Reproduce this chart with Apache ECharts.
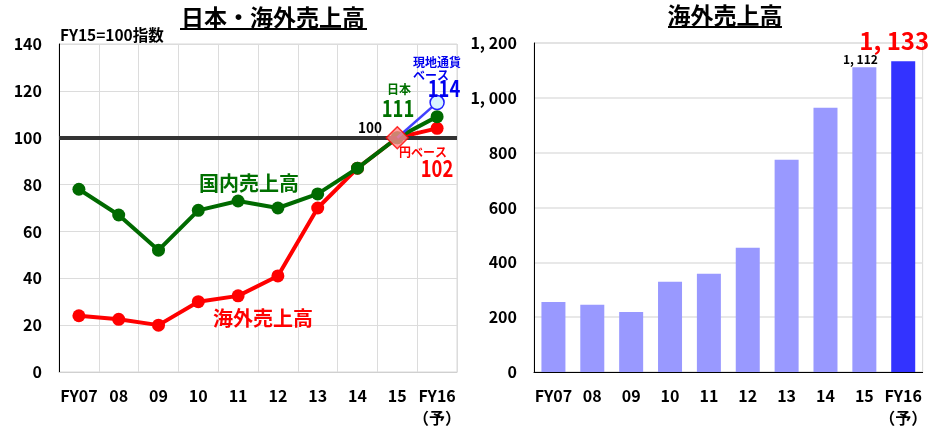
<!DOCTYPE html>
<html>
<head>
<meta charset="utf-8">
<script src="https://cdn.jsdelivr.net/npm/echarts@6/dist/echarts.min.js"></script>
<style>
  body { margin: 0; background: #fff; }
  #main { width: 930px; height: 430px; }
</style>
</head>
<body>
<div id="main"></div>
<script>
// categories
const years = ['FY07', '08', '09', '10', '11', '12', '13', '14', '15', 'FY16\n（予）'];
// left: index FY15 = 100
const domestic = [78, 67, 52, 69, 73, 70, 76, 87, 100, 109];
const overseasYen = [24, 22.5, 20, 30, 32.5, 41, 70, 87, 100, 104];
const overseasLocal = [null, null, null, null, null, null, null, null, 100, 115];
// right: overseas sales
const overseasSales = [255, 245, 219, 329, 358, 453, 774, 964, 1112, 1133];

const FONT = '"Noto Sans CJK JP", "Noto Sans", sans-serif';
const GREEN = '#006a00';
const RED = '#ff0000';
const BLUE = '#3333ff';

const fmt = v => v >= 1000 ? Math.floor(v / 1000) + ', ' + String(v % 1000).padStart(3, '0') : String(v);

const axisLabel = { color: '#000', fontFamily: FONT, fontWeight: 'bold', fontSize: 16 };

function txt(x, y, text, size, color, sx) {
  return {
    type: 'text', x: x, y: y, scaleX: sx || 1, z: 100,
    style: { text: text, fill: color, fontFamily: FONT, fontWeight: 'bold', fontSize: size, align: 'center', verticalAlign: 'middle' }
  };
}

const chart = echarts.init(document.getElementById('main'));
chart.setOption({
  backgroundColor: '#fff',
  animation: false,
  grid: [
    { left: 59, top: 44, width: 398, height: 328, show: true, borderColor: '#d9d9d9', borderWidth: 1 },
    { left: 534, top: 43, width: 393, height: 329, show: true, borderColor: '#d9d9d9', borderWidth: 1 }
  ],
  xAxis: [
    {
      type: 'category', gridIndex: 0, data: years,
      axisLine: { lineStyle: { color: '#d0d0d0' } }, axisTick: { show: false },
      axisLabel: Object.assign({ margin: 13, lineHeight: 22, interval: 0 }, axisLabel),
      splitLine: { show: true, interval: 0, lineStyle: { color: '#dcdcdc' } }
    },
    {
      type: 'category', gridIndex: 1, data: years,
      axisLine: { lineStyle: { color: '#000', width: 1 } }, axisTick: { show: false },
      axisLabel: Object.assign({ margin: 13, lineHeight: 22, interval: 0 }, axisLabel),
      splitLine: { show: false }
    }
  ],
  yAxis: [
    {
      type: 'value', gridIndex: 0, min: 0, max: 140, interval: 20,
      axisLine: { show: true, lineStyle: { color: '#000' } }, axisTick: { show: false },
      axisLabel: Object.assign({ margin: 17 }, axisLabel),
      splitLine: { lineStyle: { color: '#dcdcdc' } }
    },
    {
      type: 'value', gridIndex: 1, min: 0, max: 1200, interval: 200,
      axisLine: { show: true, lineStyle: { color: '#000' } }, axisTick: { show: false },
      axisLabel: Object.assign({ margin: 17, formatter: fmt }, axisLabel),
      splitLine: { lineStyle: { color: '#e0e0e0', width: 1.5 } }
    }
  ],
  series: [
    {
      name: '海外売上高', type: 'line', xAxisIndex: 0, yAxisIndex: 0, data: overseasYen,
      symbol: 'circle', symbolSize: 13, z: 3,
      lineStyle: { color: RED, width: 4 }, itemStyle: { color: RED },
      markLine: {
        silent: true, symbol: 'none', label: { show: false },
        lineStyle: { color: '#333', width: 4, type: 'solid' },
        data: [{ yAxis: 100 }]
      }
    },
    {
      name: '国内売上高', type: 'line', xAxisIndex: 0, yAxisIndex: 0, data: domestic,
      symbol: 'circle', symbolSize: 13, z: 4,
      lineStyle: { color: GREEN, width: 4 }, itemStyle: { color: GREEN }
    },
    {
      name: '現地通貨ベース', type: 'line', xAxisIndex: 0, yAxisIndex: 0,
      data: overseasLocal.map((v, i) => i === 9 ? v : { value: v, symbol: 'none' }),
      symbol: 'circle', symbolSize: 14, z: 5,
      lineStyle: { color: '#4040ff', width: 2.5 },
      itemStyle: { color: '#d8f4ff', borderColor: '#2020ff', borderWidth: 1.5 }
    },
    {
      name: 'FY15', type: 'scatter', xAxisIndex: 0, yAxisIndex: 0,
      data: overseasYen.map((v, i) => i === 8 ? v : null),
      symbol: 'diamond', symbolSize: 22, z: 6,
      itemStyle: { color: '#ff8c8c', borderColor: RED, borderWidth: 1.5 }
    },
    {
      name: '海外売上高', type: 'bar', xAxisIndex: 1, yAxisIndex: 1, barWidth: 24,
      data: overseasSales.map((v, i) => {
        const d = { value: v, itemStyle: { color: i === 9 ? BLUE : '#9999ff' } };
        if (i === 8) d.label = { show: true, position: 'top', distance: 2, offset: [-4, 0], formatter: p => fmt(p.value), color: '#000', fontFamily: FONT, fontWeight: 'bold', fontSize: 12 };
        if (i === 9) d.label = { show: true, position: 'top', distance: 4, offset: [-9, -4], formatter: p => fmt(p.value), color: RED, fontFamily: FONT, fontWeight: 'bold', fontSize: 24 };
        return d;
      })
    }
  ],
  graphic: [
    txt(273, 17, '日本・海外売上高', 23, '#000'),
    { type: 'rect', shape: { x: 180, y: 28, width: 187, height: 2 }, style: { fill: '#000' } },
    txt(725, 15, '海外売上高', 23, '#000'),
    { type: 'rect', shape: { x: 668, y: 26, width: 114, height: 2 }, style: { fill: '#000' } },
    { type: 'text', x: 60, y: 35, z: 100, style: { text: 'FY15=100指数', fill: '#000', fontFamily: FONT, fontWeight: 'bold', fontSize: 15.5, align: 'left', verticalAlign: 'middle' } },
    txt(249, 183, '国内売上高', 20, '#007000'),
    txt(263, 318, '海外売上高', 20, RED),
    txt(370, 127, '100', 15, '#000', 0.9),
    txt(399, 89, '日本', 12, '#007000'),
    txt(398, 108, '111', 23, '#007000', 0.8),
    txt(437, 62, '現地通貨', 12, '#0000ee'),
    txt(431, 75, 'ベース', 12, '#0000ee'),
    txt(444, 88, '114', 23, '#0000ee', 0.8),
    txt(423, 152, '円ベース', 12, RED),
    txt(437, 168, '102', 23, RED, 0.8)
  ]
});
</script>
</body>
</html>
